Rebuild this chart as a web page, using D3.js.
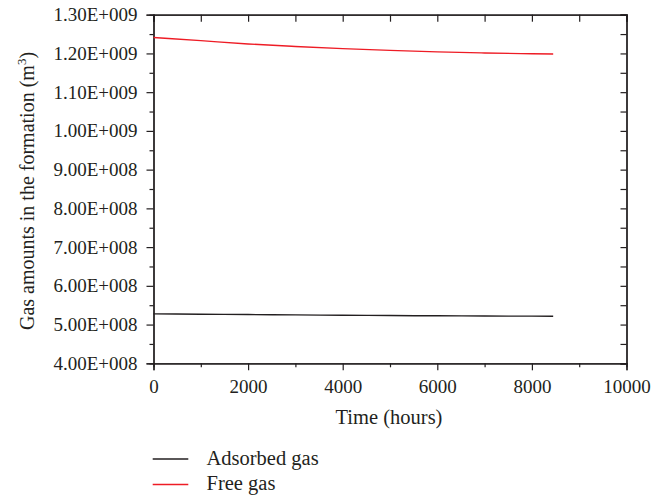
<!DOCTYPE html>
<html>
<head>
<meta charset="utf-8">
<script src="https://cdn.jsdelivr.net/npm/d3@7"></script>
<style>
  body { margin: 0; background: #fff; }
  svg text { font-family: "Liberation Serif", "DejaVu Serif", serif; fill: #231f20; }
</style>
</head>
<body>
<div id="chart"></div>
<script>
// data
var timeHours = [0, 1000, 2000, 3000, 4000, 5000, 6000, 7000, 8000, 8450];
var adsorbedGas = [5.276e8, 5.268e8, 5.258e8, 5.249e8, 5.240e8, 5.233e8, 5.226e8, 5.221e8, 5.217e8, 5.215e8];
var freeGas = [1.2413e9, 1.2330e9, 1.2245e9, 1.2180e9, 1.2125e9, 1.2078e9, 1.2040e9, 1.2012e9, 1.1992e9, 1.1985e9];
var xTicks = [0, 2000, 4000, 6000, 8000, 10000];
var yTicks = [4e8, 5e8, 6e8, 7e8, 8e8, 9e8, 1e9, 1.1e9, 1.2e9, 1.3e9];
var seriesNames = ["Adsorbed gas", "Free gas"];
var seriesColors = ["#231f20", "#ee1c25"];

var W = 652, H = 498;
var margin = { top: 14.7, right: 25.5, bottom: 134.7, left: 153.5 },
  width = W - margin.left - margin.right,
  height = H - margin.top - margin.bottom;

var svg = d3.select("#chart")
  .append("svg")
  .attr("width", W)
  .attr("height", H);

var g = svg.append("g")
  .attr("transform", "translate(" + margin.left + "," + margin.top + ")");

var x = d3.scaleLinear().domain([0, 10000]).range([0, width]);
var y = d3.scaleLinear().domain([4e8, 1.3e9]).range([height, 0]);

function fmtE(v) {
  var e = Math.floor(Math.log10(v) + 1e-9);
  var m = v / Math.pow(10, e);
  return m.toFixed(2) + "E+" + String(e).padStart(3, "0");
}

var minorX = d3.range(1000, 10000, 2000);
var minorY = d3.range(4.5e8, 1.3e9, 1e8);

// bottom axis: major outward, minor short outward
var bottomAxis = g.append("g").attr("transform", "translate(0," + height + ")");
bottomAxis.call(d3.axisBottom(x).tickValues(xTicks).tickSize(7).tickPadding(9).tickFormat(d3.format("d")));
bottomAxis.append("g").call(d3.axisBottom(x).tickValues(minorX).tickSize(4).tickFormat(""));

// left axis
var leftAxis = g.append("g");
leftAxis.call(d3.axisLeft(y).tickValues(yTicks).tickSize(7).tickPadding(9).tickFormat(fmtE));
leftAxis.append("g").call(d3.axisLeft(y).tickValues(minorY).tickSize(4).tickFormat(""));

// top axis: ticks inward
var topAxis = g.append("g");
topAxis.call(d3.axisTop(x).tickValues(xTicks).tickSize(-7).tickFormat(""));
topAxis.append("g").call(d3.axisTop(x).tickValues(minorX).tickSize(-7).tickFormat(""));

// right axis: ticks inward
var rightAxis = g.append("g").attr("transform", "translate(" + width + ",0)");
rightAxis.call(d3.axisRight(y).tickValues(yTicks).tickSize(-6).tickFormat(""));
rightAxis.append("g").call(d3.axisRight(y).tickValues(minorY).tickSize(-6).tickFormat(""));

g.selectAll(".domain").attr("stroke", "#231f20").attr("stroke-width", 1.3);
g.selectAll(".tick line").attr("stroke", "#231f20").attr("stroke-width", 1.2);
g.selectAll(".tick text").style("font-size", "19px").attr("fill", "#231f20");

// lines
var line = d3.line()
  .x(function (d) { return x(d[0]); })
  .y(function (d) { return y(d[1]); })
  .curve(d3.curveMonotoneX);

var series = [adsorbedGas, freeGas];
series.forEach(function (vals, i) {
  g.append("path")
    .datum(timeHours.map(function (t, j) { return [t, vals[j]]; }))
    .attr("fill", "none")
    .attr("stroke", seriesColors[i])
    .attr("stroke-width", 1.4)
    .attr("d", line);
});

// axis titles
svg.append("text")
  .attr("x", margin.left + x(5000) - 1)
  .attr("y", 424)
  .attr("text-anchor", "middle")
  .style("font-size", "20.5px")
  .text("Time (hours)");

var yt = svg.append("text")
  .attr("transform", "translate(34," + (margin.top + height / 2 + 2) + ") rotate(-90)")
  .attr("text-anchor", "middle")
  .style("font-size", "20px");
yt.append("tspan").text("Gas amounts in the formation (m");
yt.append("tspan").attr("dy", -8).style("font-size", "13px").text("3");
yt.append("tspan").attr("dy", 8).text(")");

// legend
var legend = svg.append("g");
seriesNames.forEach(function (name, i) {
  var ly = 459 + i * 25.5;
  legend.append("line")
    .attr("x1", 152.7).attr("x2", 188.3)
    .attr("y1", ly).attr("y2", ly)
    .attr("stroke", seriesColors[i])
    .attr("stroke-width", 1.4);
  legend.append("text")
    .attr("x", 206.5)
    .attr("y", ly + 5.5)
    .style("font-size", "20.5px")
    .text(name);
});
</script>
</body>
</html>
